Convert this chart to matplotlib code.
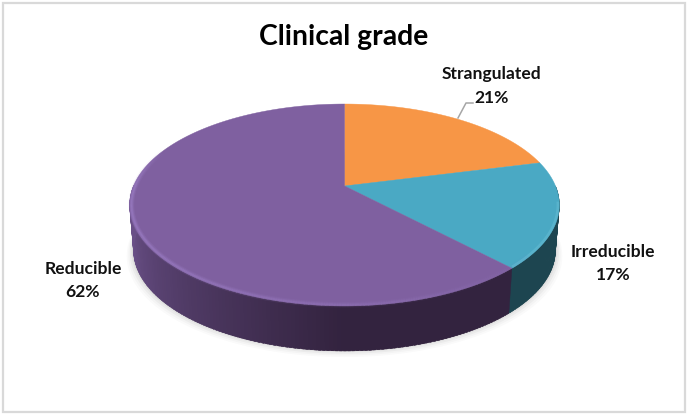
"""Clinical grade pie, drawn by hand because of the perspective 3D look"""

import matplotlib
matplotlib.use('Agg')
import matplotlib.pyplot as plt
from matplotlib.collections import LineCollection
from matplotlib.patches import Rectangle
import numpy as np

title = 'Clinical grade'
categories = ['Strangulated', 'Irreducible', 'Reducible']
percents = [21, 17, 62]
top_colors = ['#F79646', '#4AA9C4', '#7F60A0']
wall_light = ['#B86F33', '#1F4A54', '#6A5088']
wall_dark = ['#B86F33', '#1D4550', '#33233F']

plt.rcParams['font.family'] = ['Lato', 'DejaVu Sans']

# projection of the pie disc, in image pixels
CX, CY = 344.5, 186
A, B, K = 211.0, 97.4, 0.188
DEPTH = 45


def project(angle, radius=1.0, drop=0.0):
    """Map clockwise-from-top angle (radians) onto the tilted disc."""
    u = radius * np.sin(angle)
    v = radius * np.cos(angle)
    den = 1 + K * v
    squeeze = 1 - 0.018 * drop / DEPTH
    return CX + squeeze * A * u / den, CY - B * v / den + drop


fig, ax = plt.subplots(figsize=(6.88, 4.15), dpi=100)
ax.set_position([0, 0, 1, 1])
ax.set_xlim(0, 688)
ax.set_ylim(415, 0)
ax.axis('off')

ax.add_patch(Rectangle((3, 3), 682, 408.5, facecolor='white', edgecolor='#D9D9D9', linewidth=1.6))

# soft shadow below the disc
full = np.linspace(0, 2 * np.pi, 361)
for grow, alpha in zip([13, 10, 7, 4, 2], [0.02, 0.025, 0.035, 0.04, 0.05]):
    x, y = project(full, drop=DEPTH)
    ax.fill(CX + (x - CX) * (1 + grow / 400), y + grow * 0.55 - 1, color='black', alpha=alpha, linewidth=0)

edges = np.cumsum([0] + percents) / 100 * 2 * np.pi

# side wall in thin strips, front part only
for i in range(len(percents)):
    start = max(edges[i], np.pi / 2)
    end = min(edges[i + 1], 3 * np.pi / 2)
    if end <= start:
        continue
    steps = np.linspace(start, end, int((end - start) * 60) + 2)
    light = np.array(matplotlib.colors.to_rgb(wall_light[i]))
    dark = np.array(matplotlib.colors.to_rgb(wall_dark[i]))
    for a0, a1 in zip(steps[:-1], steps[1:]):
        # brighter toward the left hand side
        mix = np.clip((a0 - np.pi) / (np.pi * 0.42), 0, 1)
        color = dark + (light - dark) * mix
        pts = np.linspace(a0, a1 + 0.01, 4)
        x0, y0 = project(pts)
        x1, y1 = project(pts[::-1], drop=DEPTH)
        ax.fill(np.r_[x0, x1], np.r_[y0, y1], color=color, linewidth=0.3)

# top face
for i in range(len(percents)):
    pts = np.linspace(edges[i], edges[i + 1], 200)
    x, y = project(pts)
    ax.fill(np.r_[CX, x], np.r_[CY, y], color=top_colors[i], linewidth=0.3)

# bevel highlight along the front rim, kept just inside the disc edge
rim = np.linspace(np.pi * 0.72, np.pi * 1.62, 280)
rim_x, rim_y = project(rim, radius=0.992)
points = np.column_stack([rim_x, rim_y])
segments = np.stack([points[:-1], points[1:]], axis=1)
fade = np.clip((rim[:-1] - np.pi * 0.75) / (np.pi * 0.6), 0, 1)
fade = fade * np.clip((np.pi * 1.62 - rim[:-1]) / (np.pi * 0.12), 0, 1)
for width, strength in zip([4, 2.5, 1.2], [0.12, 0.2, 0.25]):
    colors = np.zeros((len(segments), 4))
    colors[:, :3] = matplotlib.colors.to_rgb('#A98BD6')
    colors[:, 3] = fade * strength + 0.02
    ax.add_collection(LineCollection(segments, colors=colors, linewidths=width, capstyle='butt'))

rim = np.linspace(np.pi * 0.55, edges[2] - 0.01, 80)
rim_x, rim_y = project(rim, radius=0.994)
ax.plot(rim_x, rim_y, color='#6FC3DA', linewidth=2, alpha=0.4, solid_capstyle='butt')

# leader line for the top label
leader_x, leader_y = [458, 466, 473], [118, 103, 103]
ax.plot(leader_x, leader_y, color='#A6A6A6', linewidth=1.1)

ax.text(344, 36.5, title, ha='center', va='center', fontsize=20.3, fontweight='bold', color='black')

label_pos = [(492, 86), (613, 263), (83, 280)]
for name, pct, (lx, ly) in zip(categories, percents, label_pos):
    ax.text(lx, ly - 11.5, name, ha='center', va='center', fontsize=12.6, fontweight='bold', color='#111111')
    ax.text(lx, ly + 11.5, f'{pct}%', ha='center', va='center', fontsize=12.6, fontweight='bold', color='#111111')

fig.savefig('out.png', dpi=100)
plt.close(fig)
